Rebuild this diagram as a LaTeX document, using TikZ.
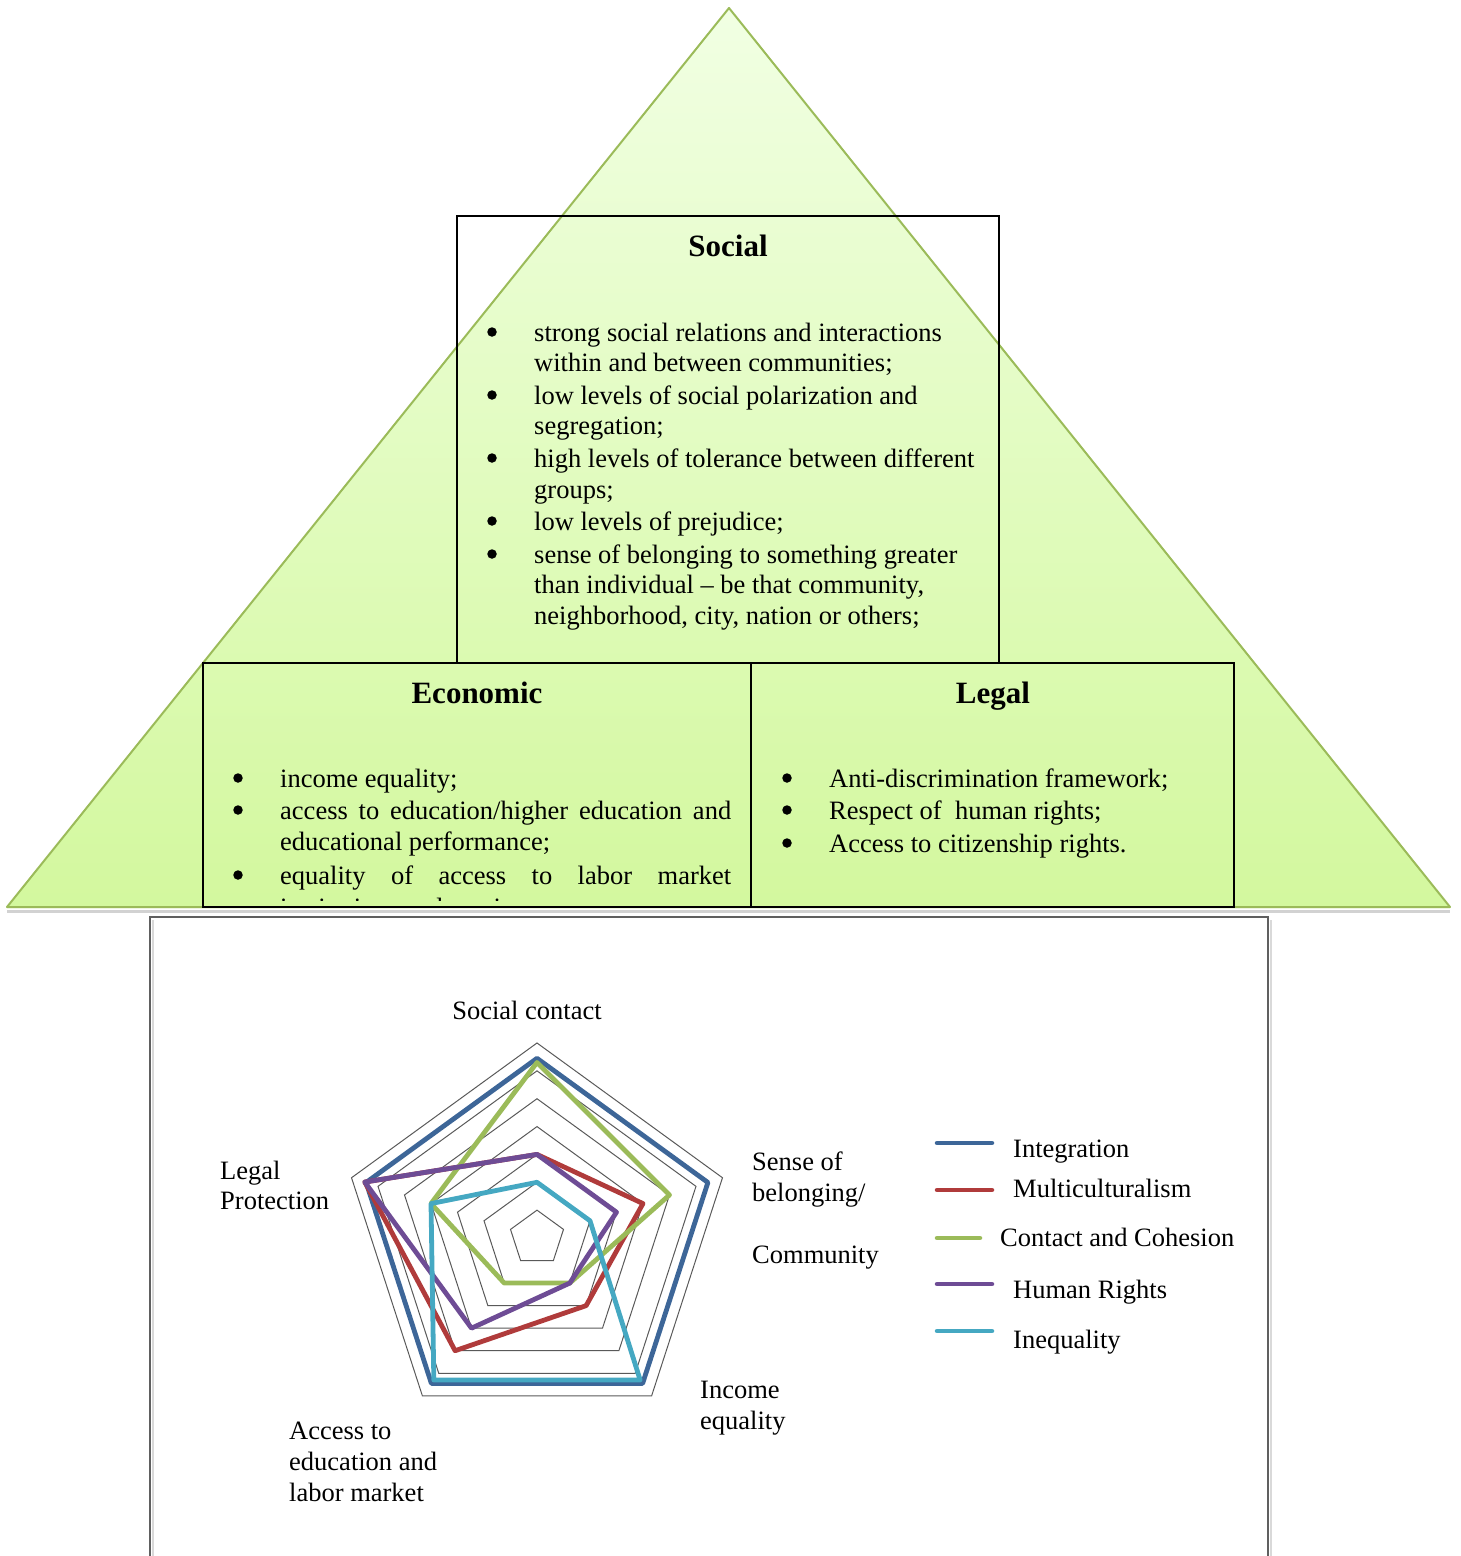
\documentclass[tikz,border=0pt]{standalone}
\usepackage{fontspec}
\setmainfont{Liberation Serif}
\usetikzlibrary{positioning}

\definecolor{trigreen}{HTML}{9BBB59}
\definecolor{tritop}{HTML}{F1FFE3}
\definecolor{tribot}{HTML}{D3F89E}
\definecolor{integ}{HTML}{3D6698}
\definecolor{multi}{HTML}{B03B3B}
\definecolor{cohes}{HTML}{9BBB59}
\definecolor{hright}{HTML}{6E4C95}
\definecolor{inequ}{HTML}{45A8C2}

\begin{document}
\begin{tikzpicture}[x=1pt, y=-1pt, font=\fontsize{26.5}{30.5}\selectfont,
  txt/.style={anchor=west, inner sep=0pt, text height=17pt, text depth=6pt, yshift=-3.5pt},
  ctr/.style={inner sep=0pt, text height=17pt, text depth=6pt, yshift=-3.5pt},
  title/.style={inner sep=0pt, text height=21pt, text depth=7pt, yshift=-3pt, font=\fontsize{31}{36}\selectfont\bfseries},
  bul/.style={circle, fill=black, inner sep=0pt, minimum size=9.5pt},
  box/.style={draw=black, line width=1.2pt},
  gridline/.style={draw=gray!70!black, line width=1pt},
  series/.style={line width=4.8pt, line join=round},
  swatch/.style={line width=4.5pt, line cap=round}]
  \useasboundingbox (0,0) rectangle (1460,1556);

  % pyramid
  \shade[top color=tritop, bottom color=tribot] (729,8) -- (7,908) -- (1450,908) -- cycle;
  \draw[gray!35, line width=3pt] (7,911) -- (1450,911);
  \draw[trigreen, line width=2pt, line join=round] (729,8) -- (7,907) -- (1450,907) -- cycle;

  % three boxes
  \draw[box] (457,216) rectangle (999,663);
  \draw[box] (203,663) rectangle (751,907);
  \draw[box] (751,663) rectangle (1234,907);

  \node[title] (social) at (728,246) {Social};
  \node[title] (econ) at (477,693) {Economic};
  \node[title] (legal) at (993,693) {Legal};

  \foreach \y in {332, 395, 458, 521, 554}
    \node[bul] (sb-\y) at (492,\y) {};
  \foreach \y/\t in {332/{strong social relations and interactions},
                     362/{within and between communities;},
                     395/{low levels of social polarization and},
                     425/{segregation;},
                     458/{high levels of tolerance between different},
                     489/{groups;},
                     521/{low levels of prejudice;},
                     554/{sense of belonging to something greater},
                     584/{than individual – be that community,},
                     615/{neighborhood, city, nation or others;}}
    \node[txt] (st-\y) at (534,\y) {\t};

  \foreach \y in {778, 810, 875}
    \node[bul] (eb-\y) at (238,\y) {};
  \node[txt] (et-1) at (280,778) {income equality;};
  \node[txt] (et-2) at (280,810) {\makebox[451pt][s]{access to education/higher education and}};
  \node[txt] (et-3) at (280,841) {educational performance;};
  \node[txt] (et-4) at (280,875) {\makebox[451pt][s]{equality of access to labor market}};
  \begin{scope}
    \clip (204,664) rectangle (750,900);
    \node[txt] (et-5) at (280,907) {institutions and services;};
  \end{scope}

  \foreach \y in {778, 810, 843}
    \node[bul] (lb-\y) at (787,\y) {};
  \node[txt] (lt-1) at (829,778) {Anti-discrimination framework;};
  \node[txt] (lt-2) at (829,810) {Respect of \ human rights;};
  \node[txt] (lt-3) at (829,843) {Access to citizenship rights.};

  % chart frame
  \draw[gray!30, line width=2pt] (153,920) -- (153,1570);
  \draw[gray!30, line width=2pt] (1271,920) -- (1271,1570);
  \draw[gray!75!black, line width=2.6pt] (150,1570) -- (150,917) -- (1268,917) -- (1268,1570);

  % radar
  \begin{scope}[shift={(537,1238)}, x=27.86pt, y=27.86pt]
    \foreach \r in {1,...,7}
      \draw[gridline] (90:\r) -- (18:\r) -- (-54:\r) -- (-126:\r) -- (162:\r) -- cycle;
    \foreach \col/\a/\b/\c/\d/\e in {integ/6.45/6.45/6.45/6.45/6.45,
                                     multi/3/4/3/5/6.5,
                                     cohes/6.3/5/2/2/4,
                                     hright/3/3/2/4/6.5,
                                     inequ/2/2/6.3/6.3/4}
      \draw[series, \col] (90:\a) -- (18:\b) -- (-54:\c) -- (-126:\d) -- (162:\e) -- cycle;
  \end{scope}

  \node[ctr] (ax-soc) at (527,1010) {Social contact};
  \node[txt] (ax-leg1) at (220,1170) {Legal};
  \node[txt] (ax-leg2) at (220,1200) {Protection};
  \node[txt] (ax-bel1) at (752,1161) {Sense of};
  \node[txt] (ax-bel2) at (752,1192) {belonging/};
  \node[txt] (ax-bel3) at (752,1254) {Community};
  \node[txt] (ax-inc1) at (700,1389) {Income};
  \node[txt] (ax-inc2) at (700,1420) {equality};
  \node[txt] (ax-acc1) at (289,1430) {Access to};
  \node[txt] (ax-acc2) at (289,1461) {education and};
  \node[txt] (ax-acc3) at (289,1492) {labor market};

  % legend
  \foreach \col/\ly/\len/\tx/\ty/\lab in {integ/1143/55/1013/1148/Integration,
                                          multi/1190/55/1013/1188/Multiculturalism,
                                          cohes/1238/43/1000/1237/Contact and Cohesion,
                                          hright/1284/55/1013/1289/Human Rights,
                                          inequ/1331/55/1013/1339/Inequality} {
    \draw[swatch, \col] (937,\ly) -- ++(\len,0);
    \node[txt] (lg-\col) at (\tx,\ty) {\lab};
  }
\end{tikzpicture}
\end{document}
